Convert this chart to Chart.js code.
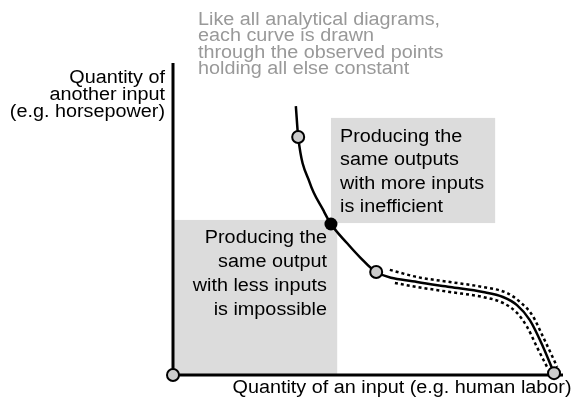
<!DOCTYPE html>
<html>
<head>
<meta charset="utf-8">
<script src="https://cdn.jsdelivr.net/npm/chart.js@4.4.1/dist/chart.umd.min.js"></script>
<style>
  body { margin: 0; background: #fff; }
</style>
</head>
<body>
<canvas id="chart" width="579" height="405"></canvas>
<script>
// isoquant (x = first input, y = second input, 0..100)
const curveX = [31.5, 32.1, 35.1, 38.5, 40.5, 44.6, 47.9, 52.1, 62.6, 71.0, 79.5, 84.6, 88.2, 91.5, 94.9, 97.7];
const curveY = [86.2, 76.3, 61.5, 52.9, 48.4, 42.3, 37.8, 33.0, 29.8, 28.2, 26.6, 25.0, 22.4, 17.6, 9.0, 0.6];

// dotted band around the lower part of the curve
const upperX = [55.6, 62.6, 71.0, 79.5, 85.6, 89.0, 92.1, 94.9, 98.5];
const upperY = [33.7, 31.4, 29.8, 28.2, 26.3, 23.4, 19.2, 12.2, 2.6];
const lowerX = [56.9, 62.6, 71.0, 79.5, 84.6, 88.2, 90.8, 93.3, 95.9];
const lowerY = [29.5, 28.2, 26.6, 25.0, 23.1, 19.9, 15.4, 9.0, 2.6];

// observed points
const openX = [32.1, 52.1, 0, 97.7];
const openY = [76.3, 33.0, 0, 0.6];
const solidX = [40.5];
const solidY = [48.4];

// shaded regions
const lowBoxX = [0, 42.1];
const lowBoxY = [0, 49.7];
const highBoxX = [40.5, 82.6];
const highBoxY = [48.7, 82.4];

const titleLines = ["Like all analytical diagrams,", "each curve is drawn", "through the observed points", "holding all else constant"];
const yLabel = ["Quantity of", "another input", "(e.g. horsepower)"];
const xLabel = "Quantity of an input (e.g. human labor)";
const highText = ["Producing the", "same outputs", "with more inputs", "is inefficient"];
const lowText = ["Producing the", "same output", "with less inputs", "is impossible"];

const pts = (xs, ys) => xs.map((x, i) => ({x: x, y: ys[i]}));

function text(ctx, str, x, y, align, color) {
    ctx.save();
    ctx.translate(x, y);
    ctx.scale(1.1, 1); // glyphs in the picture are a bit wide
    ctx.font = '18px "Liberation Sans", Arial, sans-serif';
    ctx.fillStyle = color;
    ctx.textAlign = align;
    ctx.textBaseline = 'alphabetic';
    ctx.fillText(str, 0, 0);
    ctx.restore();
}

const boxesPlugin = {
    id: 'boxes',
    beforeDatasetsDraw(chart) {
        const ctx = chart.ctx, sx = chart.scales.x, sy = chart.scales.y;
        ctx.save();
        ctx.fillStyle = '#dcdcdc';
        [[lowBoxX, lowBoxY], [highBoxX, highBoxY]].forEach(([bx, by]) => {
            const x0 = sx.getPixelForValue(bx[0]), x1 = sx.getPixelForValue(bx[1]);
            const y0 = sy.getPixelForValue(by[1]), y1 = sy.getPixelForValue(by[0]);
            ctx.fillRect(x0, y0, x1 - x0, y1 - y0);
        });
        ctx.restore();
    },
    afterDraw(chart) {
        const ctx = chart.ctx;
        titleLines.forEach((s, i) => text(ctx, s, 198, 24.5 + i * 16.6, 'left', '#999'));
        yLabel.forEach((s, i) => text(ctx, s, 165, 83 + i * 17, 'right', '#000'));
        text(ctx, xLabel, 402, 393, 'center', '#000');
        highText.forEach((s, i) => text(ctx, s, 340, 142 + i * 23.4, 'left', '#000'));
        lowText.forEach((s, i) => text(ctx, s, 327, 243 + i * 24, 'right', '#000'));
    }
};

new Chart(document.getElementById('chart'), {
    type: 'line',
    data: {
        datasets: [
            {   // open circles
                data: pts(openX, openY), showLine: false, order: 0, clip: false,
                pointRadius: 6, pointBorderWidth: 2,
                pointBackgroundColor: '#cccccc', pointBorderColor: '#000'
            },
            {   // the efficient point
                data: pts(solidX, solidY), showLine: false, order: 0, clip: false,
                pointRadius: 6.5, pointBorderWidth: 0,
                pointBackgroundColor: '#000'
            },
            {
                data: pts(curveX, curveY), order: 1, clip: false,
                borderColor: '#000', borderWidth: 2.5, pointRadius: 0,
                cubicInterpolationMode: 'monotone'
            },
            {
                data: pts(upperX, upperY), order: 2, clip: false,
                borderColor: '#000', borderWidth: 2.5, borderDash: [3, 3], pointRadius: 0,
                cubicInterpolationMode: 'monotone'
            },
            {
                data: pts(lowerX, lowerY), order: 2, clip: false,
                borderColor: '#000', borderWidth: 2.5, borderDash: [3, 3], pointRadius: 0,
                cubicInterpolationMode: 'monotone'
            },
            {   // axes
                data: [{x: 0, y: 100}, {x: 0, y: 0}, {x: 100, y: 0}], order: 3, clip: false,
                borderColor: '#000', borderWidth: 3, pointRadius: 0, tension: 0,
                borderJoinStyle: 'miter'
            }
        ]
    },
    options: {
        responsive: false,
        devicePixelRatio: 1,
        animation: false,
        layout: {padding: {left: 173, right: 16, top: 63, bottom: 30}},
        scales: {
            x: {type: 'linear', min: 0, max: 100, display: false},
            y: {type: 'linear', min: 0, max: 100, display: false}
        },
        plugins: {legend: {display: false}, tooltip: {enabled: false}}
    },
    plugins: [boxesPlugin]
});
</script>
</body>
</html>
